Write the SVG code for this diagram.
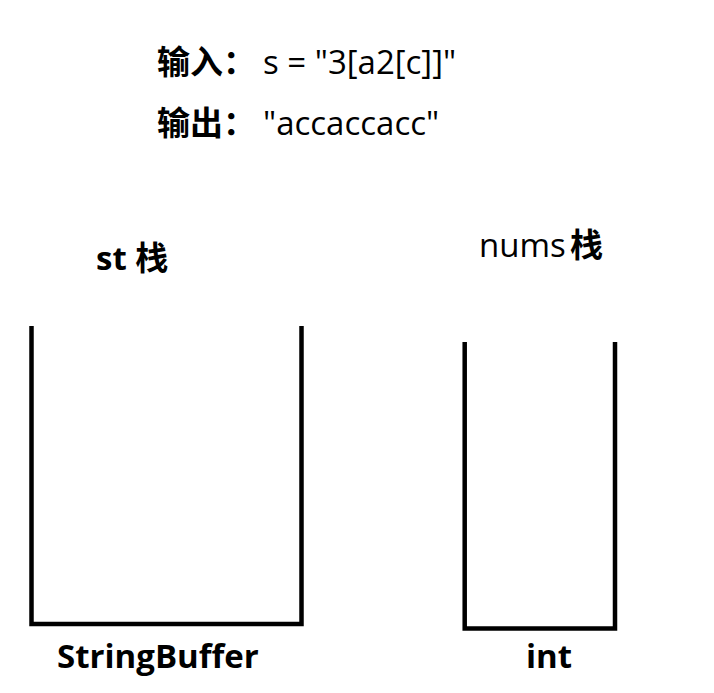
<svg xmlns="http://www.w3.org/2000/svg" width="714" height="693" viewBox="0 0 714 693">
<style>
.t{font-family:"Open Sans","Noto Sans CJK SC",sans-serif;font-size:33px;fill:#000}
.b{font-weight:bold}
.stack{fill:none;stroke:#000;stroke-width:4.5;stroke-linejoin:miter}
</style>
<rect width="714" height="693" fill="#fff"/>
<g id="header">
<text class="t" x="157" y="74"><tspan class="b">输入：</tspan><tspan x="263">s = "3[a2[c]]"</tspan></text>
<text class="t" x="157" y="135"><tspan class="b">输出：</tspan><tspan x="263">"accaccacc"</tspan></text>
</g>
<g id="st-stack">
<text class="t b" x="96" y="270">st 栈</text>
<path class="stack" d="M31.5,326 V624 H301.5 V326"/>
<text class="t b" x="57" y="668">StringBuffer</text>
</g>
<g id="nums-stack">
<text class="t" x="479" y="257">nums<tspan class="b" x="570">栈</tspan></text>
<path class="stack" d="M464.7,342 V628.5 H615 V342"/>
<text class="t b" x="526" y="668">int</text>
</g>
<g id="connectors"/>
</svg>
